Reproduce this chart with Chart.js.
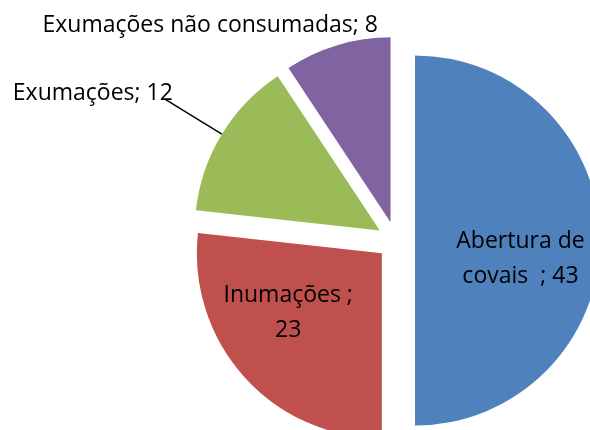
<!DOCTYPE html>
<html>
<head>
<meta charset="utf-8">
<script src="https://cdn.jsdelivr.net/npm/chart.js@4.4.0/dist/chart.umd.min.js"></script>
<style>
  html, body { margin: 0; padding: 0; background: #fff; }
  .chart-box { width: 590px; height: 430px; }
</style>
</head>
<body>
<div class="chart-box"><canvas id="pieChart"></canvas></div>
<script>
var categories = ["Abertura de covais", "Inumações", "Exumações", "Exumações não consumadas"];
var values = [43, 23, 12, 8];
// how each label is written/split on the chart
var labelLines = [
  ["Abertura de", "covais  ; " + values[0]],
  ["Inumações ;", String(values[1])],
  ["Exumações; " + values[2]],
  ["Exumações não consumadas; " + values[3]]
];
var sliceColors = ["#4F81BD", "#C0504D", "#9BBB59", "#8064A2"];

// label placement: fraction of radius along the slice middle, then a nudge
var labelSpots = [
  { frac: 0.57, dx: 0, dy: 17 },
  { frac: 0.6, dx: -11, dy: -16 },
  { frac: 1, dx: -129, dy: -42, leader: true },
  { frac: 1, dx: -127, dy: -21 }
];
var explode = 19;
var labelFont = "23px 'Open Sans'";
var lineGap = 35;
var capHeight = 16;

// push every slice outward along its middle angle (same distance, same radius)
var explodePlugin = {
  id: "explode",
  afterDatasetUpdate: function (chart, args) {
    args.meta.data.forEach(function (arc) {
      var mid = (arc.startAngle + arc.endAngle) / 2;
      arc.x += Math.cos(mid) * explode;
      arc.y += Math.sin(mid) * explode;
    });
  }
};

var labelPlugin = {
  id: "sliceLabels",
  afterDatasetsDraw: function (chart) {
    var ctx = chart.ctx;
    var arcs = chart.getDatasetMeta(0).data;
    ctx.save();
    ctx.font = labelFont;
    ctx.fillStyle = "#000";
    ctx.textAlign = "center";
    ctx.textBaseline = "alphabetic";
    arcs.forEach(function (arc, i) {
      var spot = labelSpots[i];
      var mid = (arc.startAngle + arc.endAngle) / 2;
      var px = arc.x + Math.cos(mid) * arc.outerRadius * spot.frac;
      var py = arc.y + Math.sin(mid) * arc.outerRadius * spot.frac;
      var ax = px + spot.dx;
      var ay = py + spot.dy;
      var lines = labelLines[i];
      lines.forEach(function (txt, k) {
        var base = ay + (k - (lines.length - 1) / 2) * lineGap + capHeight / 2;
        ctx.fillText(txt, ax, base);
      });
      if (spot.leader) {
        var w = ctx.measureText(lines[0]).width;
        ctx.beginPath();
        ctx.strokeStyle = "#000";
        ctx.lineWidth = 1.5;
        ctx.moveTo(ax + w / 2 - 8, ay + capHeight / 2 - 1);
        ctx.lineTo(px, py);
        ctx.stroke();
      }
    });
    ctx.restore();
  }
};

var ctx = document.getElementById("pieChart").getContext("2d");
var pieChart = new Chart(ctx, {
  type: "pie",
  data: {
    labels: categories,
    datasets: [
      {
        data: values,
        backgroundColor: sliceColors,
        borderWidth: 0,
        offset: 0,
        radius: 185,
        clip: false
      }
    ]
  },
  options: {
    responsive: true,
    maintainAspectRatio: false,
    animation: false,
    layout: {
      padding: { left: 202, top: 51, right: 0, bottom: 0 }
    },
    plugins: {
      legend: { display: false },
      tooltip: { enabled: false }
    }
  },
  plugins: [explodePlugin, labelPlugin]
});
</script>
</body>
</html>
